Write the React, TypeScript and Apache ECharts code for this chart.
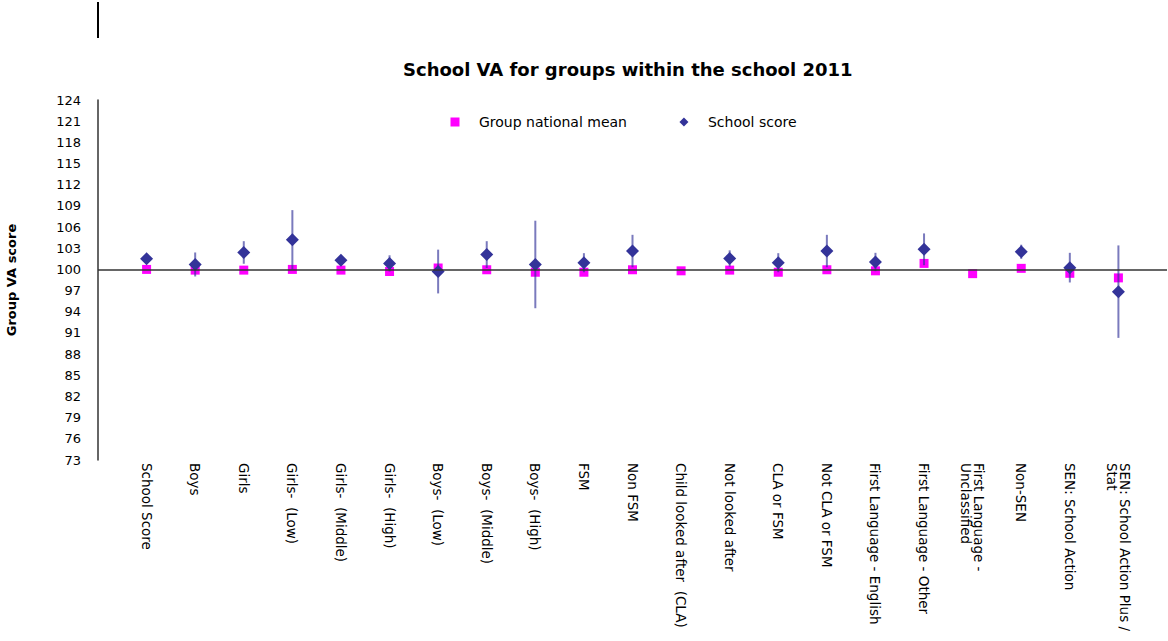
import React, { useEffect, useRef } from "react";
import * as echarts from "echarts";

const categories = [
  "School Score",
  "Boys",
  "Girls",
  "Girls-  (Low)",
  "Girls-  (Middle)",
  "Girls-  (High)",
  "Boys-  (Low)",
  "Boys-  (Middle)",
  "Boys-  (High)",
  "FSM",
  "Non FSM",
  "Child looked after  (CLA)",
  "Not looked after",
  "CLA or FSM",
  "Not CLA or FSM",
  "First Language - English",
  "First Language - Other",
  "First Language -\nUnclassified",
  "Non-SEN",
  "SEN: School Action",
  "SEN: School Action Plus /\nStat",
];

const nationalMean = [100.0, 99.9, 99.9, 100.0, 99.9, 99.7, 100.2, 99.95, 99.6, 99.6, 99.95, 99.8, 99.9, 99.6, 99.95, 99.8, 100.85, 99.4, 100.15, 99.45, 98.8];
const schoolScore = [101.5, 100.7, 102.4, 104.2, 101.3, 100.85, 99.7, 102.1, 100.7, 100.95, 102.6, null, 101.55, 100.95, 102.6, 101.05, 102.85, null, 102.5, 100.25, 96.85];
const upperBound = [102.1, 102.4, 104.0, 108.4, 102.0, 102.0, 102.8, 104.0, 106.9, 102.3, 104.9, null, 102.7, 102.3, 104.9, 102.35, 105.1, null, 103.5, 102.35, 103.4];
const lowerBound = [100.9, 99.0, 100.8, 100.0, 100.6, 99.7, 96.6, 100.2, 94.5, 99.6, 100.3, null, 100.4, 99.6, 100.3, 99.75, 100.6, null, 101.5, 98.15, 90.3];
const yTicks = [73, 76, 79, 82, 85, 88, 91, 94, 97, 100, 103, 106, 109, 112, 115, 118, 121, 124];
const referenceLine = 100;

const FONT = "DejaVu Sans";

export default function App() {
  const ref = useRef<HTMLDivElement>(null);
  useEffect(() => {
    if (!ref.current) return;
    const chart = echarts.init(ref.current, undefined, { renderer: "svg" });
    const axisCats = ["", ...categories, ""];
    const meanData = nationalMean.map((v, i) => [i + 1, v]);
    const scoreData = schoolScore.map((v, i) => [i + 1, v]);
    const errData = schoolScore
      .map((v, i) => (v == null || upperBound[i] == null ? null : [i + 1, lowerBound[i], upperBound[i]]))
      .filter((d) => d != null);

    chart.setOption({
      animation: false,
      textStyle: { fontFamily: FONT },
      title: {
        text: "School VA for groups within the school 2011",
        left: 403,
        top: 60,
        padding: 0,
        textStyle: { fontFamily: FONT, fontWeight: "bold", fontSize: 18, color: "#000" },
      },
      legend: {
        left: 450.5,
        top: 115,
        padding: 0,
        itemWidth: 9,
        itemHeight: 9,
        itemGap: 52.5,
        textStyle: { fontFamily: FONT, fontSize: 14, color: "#000", padding: [0, 0, 0, 14.5] },
        data: [
          { name: "Group national mean", icon: "rect" },
          { name: "School score", icon: "diamond" },
        ],
      },
      grid: { left: 98, right: 1, top: 100, bottom: 181, containLabel: false, outerBoundsMode: "none" },
      xAxis: {
        type: "category",
        data: axisCats,
        boundaryGap: false,
        axisLine: { show: false },
        axisTick: { show: false },
        splitLine: { show: false },
        axisLabel: {
          interval: 0,
          rotate: -90,
          margin: 3,
          fontFamily: FONT,
          fontSize: 13.5,
          color: "#000",
          lineHeight: 13,
        },
      },
      yAxis: {
        type: "value",
        min: 73,
        max: 124,
        name: "Group VA score",
        nameLocation: "middle",
        nameRotate: 90,
        nameGap: 80,
        nameTextStyle: { fontFamily: FONT, fontWeight: "bold", fontSize: 13, color: "#000" },
        axisLine: { show: true, lineStyle: { color: "#333", width: 1.5 } },
        axisTick: { show: false },
        splitLine: { show: false },
        axisLabel: {
          customValues: yTicks,
          margin: 17,
          fontFamily: FONT,
          fontSize: 13,
          color: "#000",
        },
      },
      graphic: [
        {
          type: "line",
          shape: { x1: 98, y1: 2, x2: 98, y2: 38 },
          style: { stroke: "#000", lineWidth: 2 },
        },
      ],
      series: [
        {
          name: "Group national mean",
          type: "scatter",
          symbol: "rect",
          symbolSize: 9,
          itemStyle: { color: "#FF00FF", opacity: 1 },
          data: meanData,
          z: 2,
        },
        {
          name: "errorbars",
          type: "custom",
          data: errData,
          encode: { x: 0, y: [1, 2] },
          z: 3,
          silent: true,
          renderItem: (params: any, api: any) => {
            const x = api.value(0);
            const p1 = api.coord([x, api.value(1)]);
            const p2 = api.coord([x, api.value(2)]);
            return {
              type: "line",
              shape: { x1: p1[0], y1: p1[1], x2: p2[0], y2: p2[1] },
              style: { stroke: "rgba(51,51,153,0.65)", lineWidth: 2 },
            };
          },
        },
        {
          name: "School score",
          type: "scatter",
          symbol: "diamond",
          symbolSize: 13,
          itemStyle: { color: "#333399", opacity: 1 },
          data: scoreData,
          z: 4,
        },
        {
          name: "refline",
          type: "line",
          data: [],
          z: 5,
          markLine: {
            silent: true,
            symbol: "none",
            label: { show: false },
            lineStyle: { color: "#333", width: 1.5, type: "solid" },
            data: [{ yAxis: referenceLine }],
          },
        },
      ],
    });
    return () => chart.dispose();
  }, []);
  return (
    <div
      ref={ref}
      style={{ position: "fixed", left: 0, top: 0, width: 1168, height: 641, background: "#fff" }}
    />
  );
}
